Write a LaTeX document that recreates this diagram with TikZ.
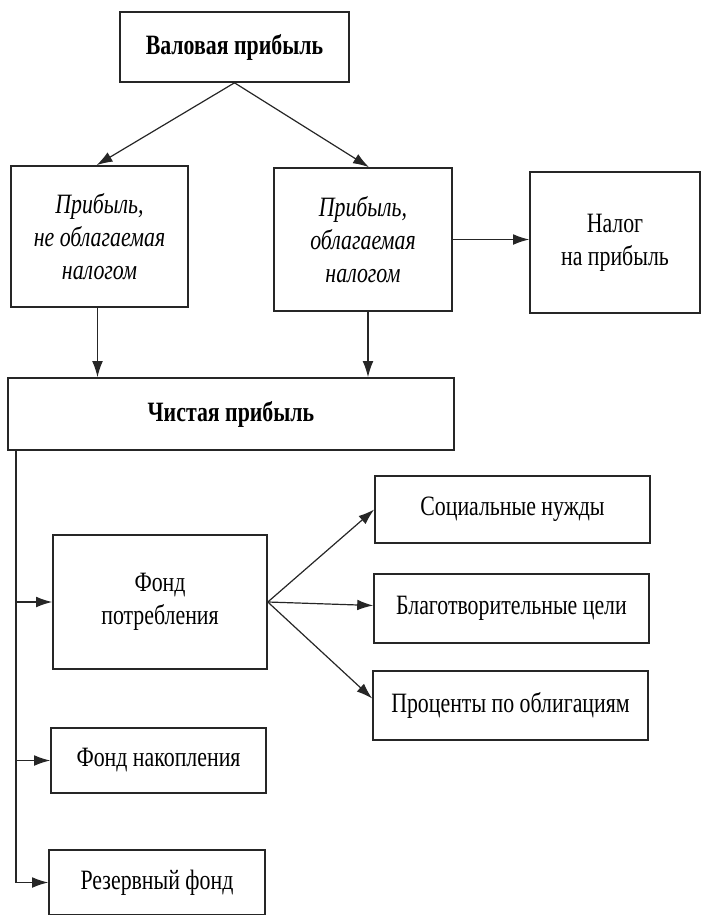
\documentclass[tikz,border=0pt]{standalone}
\usepackage{fontspec}
\setmainfont[FakeStretch=0.78]{Liberation Serif}
\usetikzlibrary{arrows.meta,calc}

\begin{document}
\begin{tikzpicture}[x=0.75pt,y=-0.75pt,
framednode/.style={rectangle, draw=black!85, line width=1.2pt, align=center, inner sep=2pt, font=\fontsize{21}{24.75}\selectfont},
boldnode/.style={framednode, font=\fontsize{21}{24.75}\selectfont\bfseries},
italicnode/.style={framednode, font=\fontsize{21}{24.75}\selectfont\itshape},
arrowline/.style={-{Latex[length=12pt,width=8pt]}, line width=0.9pt, draw=black!85},
]
\useasboundingbox (0,0) rectangle (702,915);

%Nodes
\node[boldnode, minimum width=171.75pt, minimum height=52.5pt] (gross) at (234.5,47) {Валовая прибыль};
\node[italicnode, minimum width=132.75pt, minimum height=105.75pt] (untaxed) at (99.5,236.5) {Прибыль,\\не облагаемая\\налогом};
\node[italicnode, minimum width=133.5pt, minimum height=107.25pt] (taxed) at (363,239.5) {Прибыль,\\облагаемая\\налогом};
\node[framednode, minimum width=127.5pt, minimum height=105.75pt] (tax) at (615,242.5) {Налог\\на прибыль};
\node[boldnode, minimum width=334.5pt, minimum height=54pt] (net) at (231,414) {Чистая прибыль};
\node[framednode, minimum width=206.25pt, minimum height=50.25pt] (social) at (512.5,509.5) {Социальные нужды};
\node[framednode, minimum width=160.5pt, minimum height=100.5pt] (consume) at (160,602) {Фонд\\потребления};
\node[framednode, minimum width=206.25pt, minimum height=51.75pt] (charity) at (511.5,608.5) {Благотворительные цели};
\node[framednode, minimum width=206.25pt, minimum height=51.75pt] (bonds) at (510.5,705.5) {Проценты по облигациям};
\node[framednode, minimum width=161.25pt, minimum height=48.75pt] (accum) at (158.5,760.5) {Фонд накопления};
\node[framednode, minimum width=162pt, minimum height=48.75pt] (reserve) at (157,882.5) {Резервный фонд};
\coordinate (trunk) at (16,450);
\coordinate (leftdrop) at ($(untaxed.south)+(-2,0)$);
\coordinate (rightdrop) at ($(taxed.south)+(5,0)$);

%Lines
\draw[arrowline] (gross.south) -- ($(untaxed.north)+(-3,0)$);
\draw[arrowline] (gross.south) -- ($(taxed.north)+(6,0)$);
\draw[arrowline] (taxed.east) -- (taxed.east -| tax.west);
\draw[arrowline] (leftdrop) -- (leftdrop |- net.north);
\draw[arrowline] (rightdrop) -- (rightdrop |- net.north);
\draw[arrowline] (trunk) |- (reserve.west);
\draw[arrowline] (trunk |- consume.west) -- (consume.west);
\draw[arrowline] (trunk |- accum.west) -- (accum.west);
\draw[arrowline] (consume.east) -- (social.west);
\draw[arrowline] (consume.east) -- ($(charity.west)+(0,-3)$);
\draw[arrowline] (consume.east) -- ($(bonds.west)+(0,-7)$);
\end{tikzpicture}
\end{document}
